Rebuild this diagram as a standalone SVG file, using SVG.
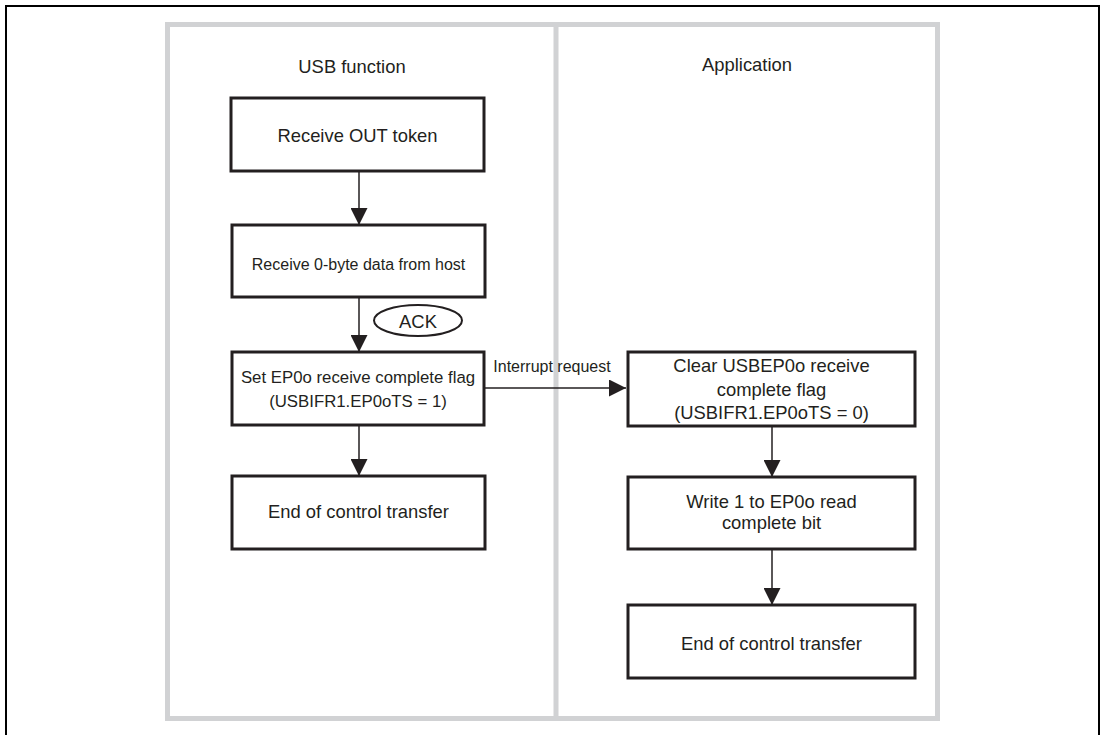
<svg xmlns="http://www.w3.org/2000/svg" width="1104" height="735" viewBox="0 0 1104 735">
<defs>
<style>
.frame{fill:none;stroke:#d1d2d4;stroke-width:5}
.box{fill:#fff;stroke:#231f20;stroke-width:3}
.t{font-family:"Liberation Sans",Arial,sans-serif;fill:#231f20;text-anchor:middle}
.c{fill:none;stroke:#231f20;stroke-width:1.5}
</style>
<marker id="ah" viewBox="0 0 17 17" refX="17" refY="8.5" markerWidth="17" markerHeight="17" markerUnits="userSpaceOnUse" orient="auto">
<path d="M0,0 L17,8.5 L0,17 Z" fill="#231f20"/>
</marker>
</defs>
<rect x="0" y="0" width="1104" height="735" fill="#fff"/>
<path d="M6,740 V6 H1099 V740" fill="none" stroke="#000" stroke-width="2"/>
<g id="lanes">
<rect class="frame" x="167.5" y="24.5" width="770" height="694"/>
<line class="frame" x1="556" y1="24.5" x2="556" y2="718.5"/>
<text class="t" x="352" y="73" font-size="18.4">USB function</text>
<text class="t" x="747" y="71" font-size="18.4">Application</text>
</g>
<g id="connectors">
<line class="c" x1="359" y1="171" x2="359" y2="225" marker-end="url(#ah)"/>
<line class="c" x1="359" y1="297" x2="359" y2="352" marker-end="url(#ah)"/>
<line class="c" x1="359" y1="425" x2="359" y2="476" marker-end="url(#ah)"/>
<line class="c" x1="484" y1="388" x2="626" y2="388" marker-end="url(#ah)"/>
<text class="t" x="552" y="372" font-size="16">Interrupt request</text>
<line class="c" x1="772" y1="426" x2="772" y2="477" marker-end="url(#ah)"/>
<line class="c" x1="772" y1="549" x2="772" y2="605" marker-end="url(#ah)"/>
</g>
<g id="ack">
<ellipse cx="418" cy="320.5" rx="44" ry="15.5" fill="#fff" stroke="#231f20" stroke-width="2"/>
<text class="t" x="418" y="328" font-size="18.4">ACK</text>
</g>
<g id="n1">
<rect class="box" x="231" y="98" width="253" height="73"/>
<text class="t" x="357.5" y="142" font-size="18.4">Receive OUT token</text>
</g>
<g id="n2">
<rect class="box" x="232" y="225" width="253" height="72"/>
<text class="t" x="358.5" y="270" font-size="16">Receive 0-byte data from host</text>
</g>
<g id="n3">
<rect class="box" x="232" y="352" width="252" height="73"/>
<text class="t" x="358" y="383" font-size="16.8">Set EP0o receive complete flag</text>
<text class="t" x="358" y="407" font-size="16.8">(USBIFR1.EP0oTS = 1)</text>
</g>
<g id="n4">
<rect class="box" x="232" y="476" width="253" height="73"/>
<text class="t" x="358.5" y="518" font-size="18.4">End of control transfer</text>
</g>
<g id="r1">
<rect class="box" x="628" y="352" width="287" height="74"/>
<text class="t" x="771.5" y="372" font-size="18.4">Clear USBEP0o receive</text>
<text class="t" x="771.5" y="396" font-size="18.4">complete flag</text>
<text class="t" x="771.5" y="419" font-size="18.4">(USBIFR1.EP0oTS = 0)</text>
</g>
<g id="r2">
<rect class="box" x="628" y="477" width="287" height="72"/>
<text class="t" x="771.5" y="508" font-size="18.4">Write 1 to EP0o read</text>
<text class="t" x="771.5" y="529" font-size="18.4">complete bit</text>
</g>
<g id="r3">
<rect class="box" x="628" y="605" width="287" height="73"/>
<text class="t" x="771.5" y="650" font-size="18.4">End of control transfer</text>
</g>
</svg>
